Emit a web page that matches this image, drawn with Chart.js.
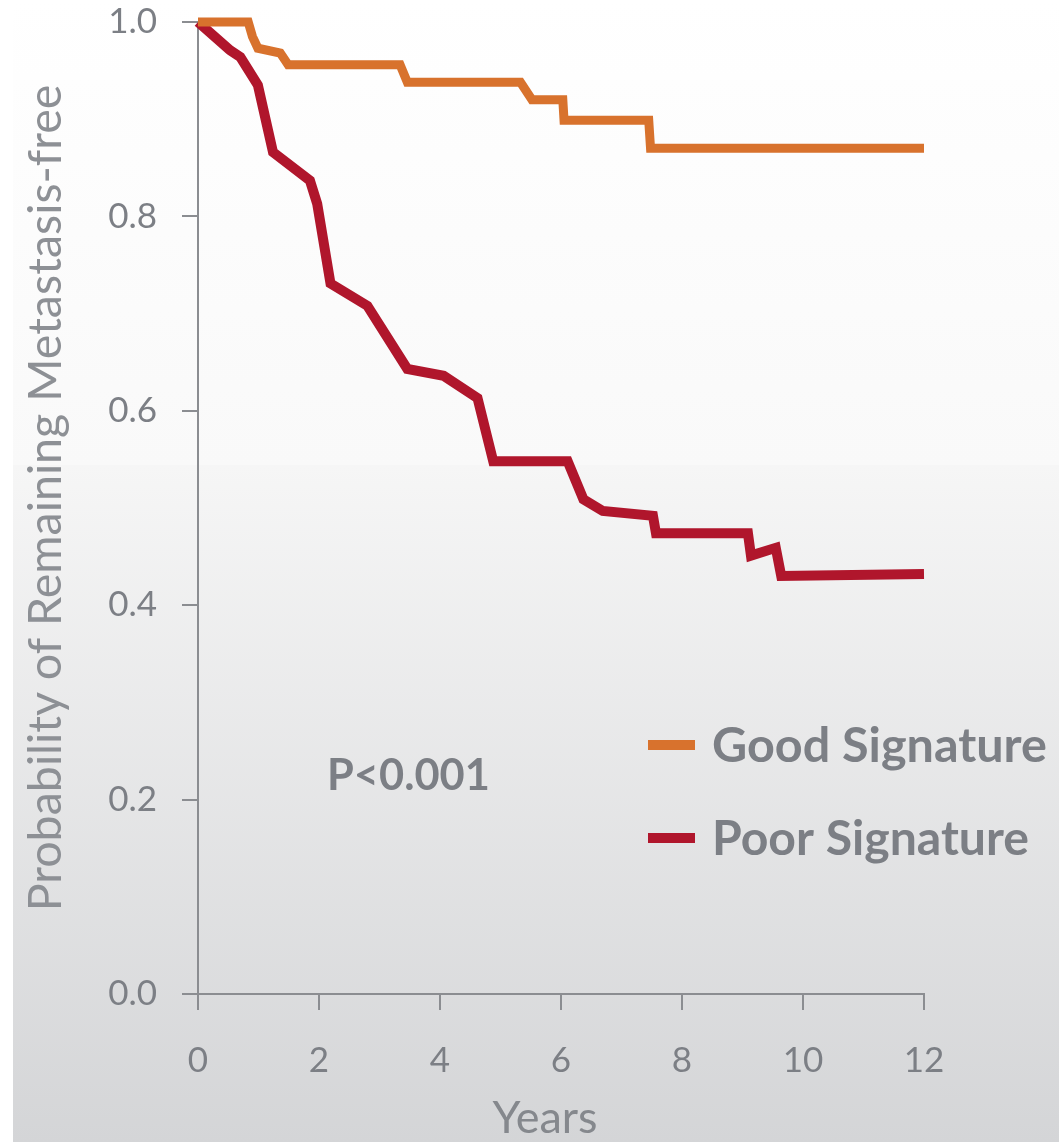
<!DOCTYPE html>
<html>
<head>
<meta charset="utf-8">
<script src="https://cdn.jsdelivr.net/npm/chart.js@4.4.1/dist/chart.umd.min.js"></script>
<style>
  html, body { margin: 0; padding: 0; background: #ffffff; }
  #wrap { width: 1059px; height: 1142px; }
</style>
</head>
<body>
<div id="wrap"><canvas id="km" width="1059" height="1142"></canvas></div>
<script>
// Kaplan-Meier curves
const goodYears = [0, 0.83, 0.9, 0.99, 1.36, 1.49, 3.34, 3.46, 5.33, 5.52, 6.03, 6.05, 7.45, 7.48, 12.0];
const goodProb  = [1.0, 1.0, 0.985, 0.973, 0.968, 0.956, 0.956, 0.938, 0.938, 0.92, 0.92, 0.899, 0.899, 0.870, 0.870];

const poorYears = [0, 0.53, 0.70, 0.99, 1.24, 1.85, 1.97, 2.19, 2.80, 3.46, 4.06, 4.62, 4.88, 6.11, 6.37, 6.69, 7.52, 7.57, 9.09, 9.14, 9.55, 9.64, 12.0];
const poorProb  = [1.0, 0.971, 0.964, 0.935, 0.866, 0.837, 0.813, 0.731, 0.708, 0.643, 0.636, 0.613, 0.548, 0.548, 0.509, 0.497, 0.492, 0.474, 0.474, 0.451, 0.459, 0.430, 0.432];

const xTicks = [0, 2, 4, 6, 8, 10, 12];
const yTicks = [0.0, 0.2, 0.4, 0.6, 0.8, 1.0];

const seriesNames = ['Good Signature', 'Poor Signature'];
const pValueText = 'P<0.001';
const xTitle = 'Years';
const yTitle = 'Probability of Remaining Metastasis-free';

const ORANGE = '#d8722d';
const RED = '#b0162c';
const AXIS = '#8b8d91';
const TEXT = '#7c7f85';
const FONT = 'Lato, "Open Sans", sans-serif';

const toPoints = (xs, ys) => xs.map((x, i) => ({ x, y: ys[i] }));

// font size so that text spans the given width
function fitSize(ctx, text, weight, width) {
  ctx.font = `${weight} 100px ${FONT}`;
  return 100 * width / ctx.measureText(text).width;
}

const backdrop = {
  id: 'backdrop',
  beforeDraw(chart) {
    const { ctx, width, height } = chart;
    ctx.save();
    ctx.fillStyle = '#ffffff';
    ctx.fillRect(0, 0, width, height);
    const top = ctx.createLinearGradient(0, 0, 0, 465);
    top.addColorStop(0, '#ffffff');
    top.addColorStop(1, '#f9f9f9');
    ctx.fillStyle = top;
    ctx.fillRect(13, 0, width - 13, 465);
    const g = ctx.createLinearGradient(0, 465, 0, height);
    g.addColorStop(0, '#f6f6f6');
    g.addColorStop(1, '#d4d5d7');
    ctx.fillStyle = g;
    ctx.fillRect(13, 465, width - 13, height - 465);
    ctx.restore();
  }
};

const labels = {
  id: 'labels',
  afterDraw(chart) {
    const { ctx } = chart;
    ctx.save();

    // y axis title
    let size = fitSize(ctx, yTitle, 400, 827);
    ctx.font = `400 ${size}px ${FONT}`;
    ctx.fillStyle = '#8d9095';
    ctx.translate(61, 498);
    ctx.rotate(-Math.PI / 2);
    ctx.textAlign = 'center';
    ctx.textBaseline = 'alphabetic';
    ctx.fillText(yTitle, 0, 0);
    ctx.setTransform(1, 0, 0, 1, 0, 0);

    // x axis title
    size = fitSize(ctx, xTitle, 400, 105);
    ctx.font = `400 ${size}px ${FONT}`;
    ctx.fillStyle = '#85888d';
    ctx.textAlign = 'center';
    ctx.fillText(xTitle, 545, 1133);

    // p value
    ctx.textAlign = 'left';
    size = fitSize(ctx, pValueText, 700, 163);
    ctx.font = `700 ${size}px ${FONT}`;
    ctx.fillStyle = TEXT;
    ctx.fillText(pValueText, 327, 790);

    // legend
    const rows = [762, 855];
    const widths = [335, 317];
    chart.data.datasets.forEach((ds, i) => {
      const base = rows[i];
      ctx.fillStyle = ds.borderColor;
      ctx.fillRect(648, base - 22, 47, 10);
      const s = fitSize(ctx, ds.label, 700, widths[i]);
      ctx.font = `700 ${s}px ${FONT}`;
      ctx.fillStyle = TEXT;
      ctx.fillText(ds.label, 712, base);
    });
    ctx.restore();
  }
};

new Chart(document.getElementById('km'), {
  type: 'scatter',
  data: {
    datasets: [
      {
        label: seriesNames[0],
        data: toPoints(goodYears, goodProb),
        borderColor: ORANGE,
        backgroundColor: ORANGE,
        borderWidth: 9,
      },
      {
        label: seriesNames[1],
        data: toPoints(poorYears, poorProb),
        borderColor: RED,
        backgroundColor: RED,
        borderWidth: 10,
      },
    ].map(ds => ({
      ...ds,
      showLine: true,
      pointRadius: 0,
      tension: 0,
      borderJoinStyle: 'miter',
      borderCapStyle: 'butt',
      clip: false,
    })),
  },
  options: {
    responsive: false,
    animation: false,
    devicePixelRatio: 1,
    layout: { padding: { top: 22, right: 135, left: 0, bottom: 0 } },
    plugins: {
      legend: { display: false },
      tooltip: { enabled: false },
    },
    scales: {
      x: {
        type: 'linear',
        min: 0,
        max: 12,
        afterBuildTicks: (scale) => { scale.ticks = xTicks.map(v => ({ value: v })); },
        afterFit: (scale) => {
          scale.height = 148;
          scale.paddingLeft = 0;
          scale.paddingRight = 0;
        },
        ticks: {
          color: TEXT,
          font: { family: FONT, size: 35 },
          padding: 30,
          maxRotation: 0,
          autoSkip: false,
        },
        grid: { drawOnChartArea: false, drawTicks: true, tickLength: 16, color: AXIS, lineWidth: 2 },
        border: { color: AXIS, width: 2 },
      },
      y: {
        type: 'linear',
        min: 0,
        max: 1,
        afterBuildTicks: (scale) => { scale.ticks = yTicks.map(v => ({ value: v })); },
        afterFit: (scale) => {
          scale.width = 198;
          scale.paddingTop = 0;
          scale.paddingBottom = 0;
        },
        ticks: {
          color: TEXT,
          font: { family: FONT, size: 35 },
          padding: 25,
          callback: (v) => v.toFixed(1),
        },
        grid: { drawOnChartArea: false, drawTicks: true, tickLength: 16, color: AXIS, lineWidth: 2 },
        border: { color: AXIS, width: 2 },
      },
    },
  },
  plugins: [backdrop, labels],
});
</script>
</body>
</html>
